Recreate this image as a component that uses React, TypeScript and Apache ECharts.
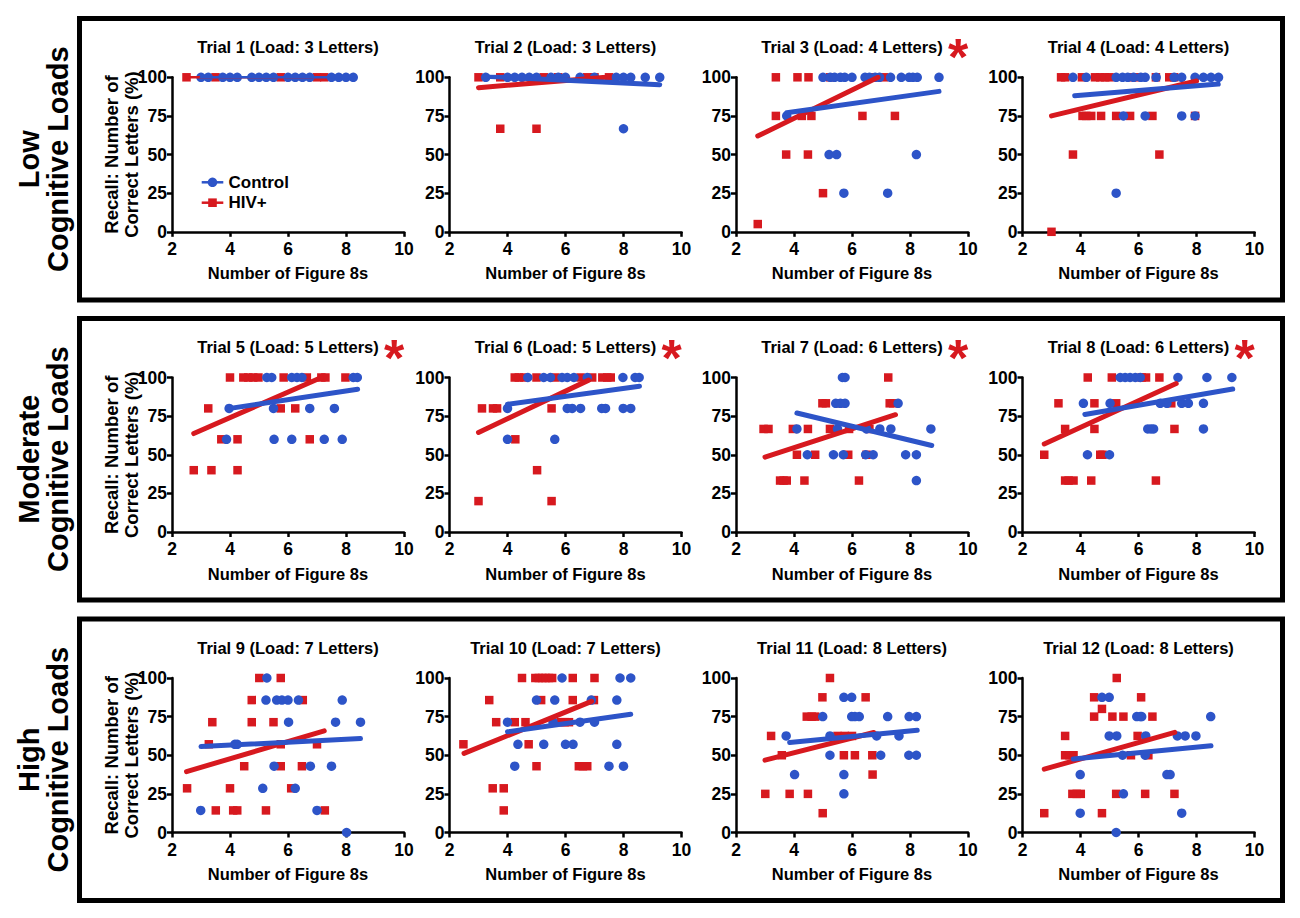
import React, { useEffect, useRef } from "react";
import * as echarts from "echarts";

const FONT = "'Liberation Sans', Arial, Helvetica, sans-serif";
const RED = "#D7191F";
const BLUE = "#2D54C8";

const trialTitles = [
  "Trial 1 (Load: 3 Letters)", "Trial 2 (Load: 3 Letters)", "Trial 3 (Load: 4 Letters)", "Trial 4 (Load: 4 Letters)",
  "Trial 5 (Load: 5 Letters)", "Trial 6 (Load: 5 Letters)", "Trial 7 (Load: 6 Letters)", "Trial 8 (Load: 6 Letters)",
  "Trial 9 (Load: 7 Letters)", "Trial 10 (Load: 7 Letters)", "Trial 11 (Load: 8 Letters)", "Trial 12 (Load: 8 Letters)",
];
const starredTrials = [3, 5, 6, 7, 8];
const rowLabels = ["Low\nCognitive Loads", "Moderate\nCognitive Loads", "High\nCognitive Loads"];
const xTicks = [2, 4, 6, 8, 10];
const yTicks = [0, 25, 50, 75, 100];
const xAxisName = "Number of Figure 8s";
const yAxisName = "Recall: Number of\nCorrect Letters (%)";
const legendNames = ["Control", "HIV+"];

// ---- data: [x, y] ----
const hiv1 = [[2.5, 100], [3.5, 100], [5.75, 100], [7.0, 100], [7.25, 100]];
const control1 = [[3.0, 100], [3.25, 100], [3.75, 100], [4.0, 100], [4.25, 100], [4.75, 100], [5.0, 100], [5.25, 100], [5.5, 100], [6.0, 100], [6.25, 100], [6.5, 100], [6.75, 100], [7.5, 100], [7.75, 100], [8.0, 100], [8.25, 100]];

const hiv2 = [[3.0, 100], [3.75, 100], [5.25, 100], [5.75, 100], [6.75, 100], [7.0, 100], [7.5, 100], [3.75, 66.7], [5.0, 66.7]];
const control2 = [[3.25, 100], [4.0, 100], [4.25, 100], [4.5, 100], [4.75, 100], [5.0, 100], [5.5, 100], [5.75, 100], [6.0, 100], [6.5, 100], [7.0, 100], [7.75, 100], [8.0, 100], [8.25, 100], [8.75, 100], [9.25, 100], [8.0, 66.7]];

const hiv3 = [[3.375, 100], [4.12, 100], [4.5, 100], [5.25, 100], [6.75, 100], [7.1, 100], [3.375, 75], [4.27, 75], [4.6, 75], [6.36, 75], [7.48, 75], [3.73, 50], [4.48, 50], [5.0, 25], [2.75, 5]];
const control3 = [[5.0, 100], [5.25, 100], [5.4, 100], [5.6, 100], [5.75, 100], [6.0, 100], [6.45, 100], [6.6, 100], [6.8, 100], [6.95, 100], [7.33, 100], [7.7, 100], [7.97, 100], [8.1, 100], [8.25, 100], [9.0, 100], [3.75, 75], [5.21, 50], [5.47, 50], [8.22, 50], [5.72, 25], [7.23, 25]];

const hiv4 = [[3.33, 100], [3.47, 100], [4.05, 100], [4.5, 100], [4.68, 100], [4.85, 100], [5.0, 100], [5.77, 100], [5.94, 100], [6.6, 100], [7.06, 100], [7.23, 100], [4.07, 75], [4.2, 75], [4.37, 75], [4.71, 75], [5.23, 75], [5.71, 75], [6.48, 75], [7.95, 75], [3.74, 50], [6.72, 50], [3.0, 0]];
const control4 = [[3.74, 100], [4.2, 100], [5.23, 100], [5.45, 100], [5.63, 100], [5.83, 100], [6.08, 100], [6.23, 100], [6.61, 100], [7.23, 100], [7.49, 100], [7.95, 100], [8.24, 100], [8.5, 100], [8.76, 100], [5.48, 75], [6.23, 75], [7.49, 75], [7.95, 75], [5.23, 25]];

const hiv5 = [[4.0, 100], [4.46, 100], [4.63, 100], [4.8, 100], [4.98, 100], [5.85, 100], [6.65, 100], [7.15, 100], [7.29, 100], [7.98, 100], [3.25, 80], [5.75, 80], [6.25, 80], [3.7, 60], [4.26, 60], [6.75, 60], [2.75, 40], [3.36, 40], [4.26, 40]];
const control5 = [[5.27, 100], [5.44, 100], [6.13, 100], [6.31, 100], [6.48, 100], [8.25, 100], [8.39, 100], [3.97, 80], [5.5, 80], [6.75, 80], [7.6, 80], [3.88, 60], [5.52, 60], [6.13, 60], [7.25, 60], [7.87, 60]];

const hiv6 = [[4.25, 100], [4.39, 100], [4.56, 100], [5.0, 100], [5.65, 100], [6.52, 100], [6.92, 100], [7.27, 100], [7.44, 100], [7.56, 100], [3.12, 80], [3.5, 80], [3.64, 80], [5.52, 80], [4.27, 60], [5.02, 40], [3.0, 20], [5.52, 20]];
const control6 = [[4.7, 100], [5.25, 100], [5.48, 100], [5.88, 100], [6.06, 100], [6.29, 100], [6.75, 100], [7.98, 100], [8.4, 100], [8.54, 100], [4.0, 80], [6.06, 80], [6.23, 80], [6.52, 80], [7.25, 80], [7.38, 80], [7.99, 80], [8.25, 80], [4.0, 60], [5.63, 60]];

const hiv7 = [[7.25, 100], [4.98, 83.3], [5.1, 83.3], [5.6, 83.3], [7.3, 83.3], [7.42, 83.3], [2.95, 66.7], [3.12, 66.7], [3.96, 66.7], [4.48, 66.7], [5.24, 66.7], [5.9, 66.7], [6.6, 66.7], [4.1, 50], [4.73, 50], [5.87, 50], [6.5, 50], [3.52, 33.3], [3.64, 33.3], [3.75, 33.3], [4.36, 33.3], [6.24, 33.3]];
const control7 = [[5.67, 100], [5.76, 100], [5.44, 83.3], [5.6, 83.3], [5.76, 83.3], [7.59, 83.3], [4.1, 66.7], [5.5, 66.7], [6.5, 66.7], [6.96, 66.7], [7.34, 66.7], [8.72, 66.7], [4.46, 50], [5.36, 50], [5.7, 50], [6.47, 50], [6.73, 50], [7.85, 50], [8.22, 50], [8.22, 33.3]];

const hiv8 = [[4.25, 100], [5.08, 100], [6.11, 100], [6.26, 100], [6.72, 100], [3.24, 83.3], [4.48, 83.3], [5.23, 83.3], [7.13, 83.3], [3.47, 66.7], [4.48, 66.7], [7.24, 66.7], [2.75, 50], [4.68, 50], [4.76, 50], [3.47, 33.3], [3.59, 33.3], [3.76, 33.3], [4.37, 33.3], [6.6, 33.3]];
const control8 = [[5.37, 100], [5.54, 100], [5.71, 100], [5.89, 100], [6.06, 100], [7.36, 100], [8.36, 100], [9.22, 100], [4.1, 83.3], [5.02, 83.3], [6.75, 83.3], [6.98, 83.3], [7.49, 83.3], [7.72, 83.3], [8.24, 83.3], [6.32, 66.7], [6.43, 66.7], [6.52, 66.7], [8.24, 66.7], [4.24, 50], [5.0, 50]];

const hiv9 = [[5.01, 100], [5.75, 100], [4.75, 85.7], [6.51, 85.7], [3.39, 71.4], [4.75, 71.4], [5.5, 71.4], [3.27, 57.1], [7.0, 57.1], [5.75, 57.1], [4.49, 42.9], [5.75, 42.9], [6.48, 42.9], [2.52, 28.6], [4.0, 28.6], [6.11, 28.6], [3.51, 14.3], [4.11, 14.3], [4.25, 14.3], [5.24, 14.3], [7.27, 14.3]];
const control9 = [[5.27, 100], [5.24, 85.7], [5.61, 85.7], [5.79, 85.7], [6.0, 85.7], [6.36, 85.7], [7.87, 85.7], [6.02, 71.4], [7.64, 71.4], [8.5, 71.4], [4.17, 57.1], [4.25, 57.1], [5.52, 42.9], [6.77, 42.9], [7.5, 42.9], [5.13, 28.6], [6.25, 28.6], [2.99, 14.3], [7.0, 14.3], [8.02, 0]];

const hiv10 = [[4.5, 100], [4.96, 100], [5.08, 100], [5.2, 100], [5.31, 100], [5.43, 100], [5.54, 100], [6.25, 100], [7.0, 100], [3.37, 85.7], [5.16, 85.7], [6.25, 85.7], [6.98, 85.7], [3.61, 71.4], [4.25, 71.4], [4.62, 71.4], [5.83, 71.4], [5.97, 71.4], [6.12, 71.4], [2.48, 57.1], [4.73, 57.1], [5.0, 42.9], [6.46, 42.9], [6.6, 42.9], [6.75, 42.9], [3.49, 28.6], [3.87, 28.6], [3.87, 14.3]];
const control10 = [[5.88, 100], [7.88, 100], [8.25, 100], [5.0, 85.7], [5.63, 85.7], [6.89, 85.7], [7.77, 85.7], [4.0, 71.4], [5.57, 71.4], [6.5, 71.4], [7.0, 71.4], [4.36, 57.1], [5.25, 57.1], [6.0, 57.1], [6.26, 57.1], [7.77, 57.1], [4.25, 42.9], [7.5, 42.9], [8.0, 42.9]];

const hiv11 = [[5.24, 100], [4.98, 87.5], [6.47, 87.5], [4.44, 75], [4.61, 75], [4.73, 75], [3.21, 62.5], [5.5, 62.5], [5.75, 62.5], [6.0, 62.5], [3.58, 50], [5.72, 50], [6.1, 50], [6.7, 50], [6.71, 37.5], [3.01, 25], [3.85, 25], [4.48, 25], [4.99, 12.5]];
const control11 = [[5.72, 87.5], [5.99, 87.5], [4.99, 75], [5.99, 75], [6.1, 75], [6.25, 75], [7.23, 75], [7.97, 75], [8.22, 75], [3.73, 62.5], [5.24, 62.5], [6.85, 62.5], [7.62, 62.5], [5.24, 50], [6.99, 50], [7.96, 50], [8.22, 50], [4.02, 37.5], [5.72, 37.5], [5.72, 25]];

const hiv12 = [[5.25, 100], [4.47, 87.5], [6.09, 87.5], [4.74, 80], [4.47, 75], [5.1, 75], [5.48, 75], [6.48, 75], [3.47, 62.5], [5.97, 62.5], [3.47, 50], [3.62, 50], [3.76, 50], [5.74, 50], [6.34, 50], [3.72, 25], [3.87, 25], [4.01, 25], [5.23, 25], [6.23, 25], [7.24, 25], [2.75, 12.5], [4.74, 12.5]];
const control12 = [[4.74, 87.5], [4.99, 87.5], [5.94, 75], [6.06, 75], [6.11, 75], [8.49, 75], [4.99, 62.5], [5.25, 62.5], [6.25, 62.5], [7.34, 62.5], [7.61, 62.5], [7.98, 62.5], [5.45, 50], [6.23, 50], [3.99, 37.5], [6.98, 37.5], [7.09, 37.5], [5.48, 25], [3.99, 12.5], [7.49, 12.5], [5.23, 0]];

// regression lines: [x1, y1, x2, y2]
const hivFit = [
  [2.5, 100, 7.25, 100], [3.0, 93.3, 7.5, 100.2], [2.75, 62, 6.9, 100], [3.0, 75, 8.0, 97.6],
  [2.75, 63.7, 7.15, 100], [3.0, 64.4, 6.8, 98.3], [3.0, 48.5, 7.5, 75.9], [2.75, 57, 7.3, 96.1],
  [2.5, 39.4, 7.25, 65.8], [2.5, 51.2, 6.9, 84.9], [3.0, 46.8, 6.75, 64.7], [2.75, 41, 7.25, 64.8],
];
const controlFit = [
  [3.0, 100, 8.25, 100], [3.25, 100.6, 9.25, 95.2], [3.75, 77, 9.0, 90.9], [3.8, 88, 8.75, 95.6],
  [4.0, 80, 8.4, 92.4], [4.0, 82.7, 8.55, 94.4], [4.1, 77, 8.75, 56], [4.15, 76.1, 9.25, 92.5],
  [3.0, 55.6, 8.5, 60.8], [4.0, 65.2, 8.25, 76.5], [3.85, 58.2, 8.25, 66.2], [3.75, 47.5, 8.5, 56.2],
];

const hivData = [hiv1, hiv2, hiv3, hiv4, hiv5, hiv6, hiv7, hiv8, hiv9, hiv10, hiv11, hiv12];
const controlData = [control1, control2, control3, control4, control5, control6, control7, control8, control9, control10, control11, control12];

// ---- layout ----
const colLeft = [172, 449.5, 736, 1022.5];
const rowTop = [77.3, 377.5, 678];
const plotW = 232;
const plotH = 154.5;
const boxTop = [18.5, 318.5, 619];
const boxH = 281.5;
const boxLeft = 79.5;
const boxW = 1203;

function txt(x: number, y: number, text: string, size: number, o: any = {}) {
  const align = o.align || "center";
  return {
    type: "text",
    x,
    y,
    rotation: o.rotation || 0,
    silent: true,
    z: 10,
    style: {
      text,
      fill: o.fill || "#000",
      fontSize: size,
      fontWeight: "bold",
      fontFamily: FONT,
      align,
      textAlign: align,
      verticalAlign: "middle",
      textVerticalAlign: "middle",
      lineHeight: o.lineHeight,
    },
  };
}

function buildOption() {
  const grids: any[] = [];
  const xAxes: any[] = [];
  const yAxes: any[] = [];
  const series: any[] = [];
  const graphics: any[] = [];

  for (let r = 0; r < 3; r++) {
    graphics.push({
      type: "rect",
      silent: true,
      shape: { x: boxLeft, y: boxTop[r], width: boxW, height: boxH },
      style: { fill: "transparent", stroke: "#000", lineWidth: 5 },
    });
    graphics.push(txt(43.5, boxTop[r] + boxH / 2, rowLabels[r], 29, { rotation: Math.PI / 2, lineHeight: 29 }));
    graphics.push(txt(121, rowTop[r] + plotH / 2, yAxisName, 18.5, { rotation: Math.PI / 2, lineHeight: 20 }));
  }

  const axisLineStyle = { color: "#000", width: 2.5 };
  const labelStyle = { color: "#000", fontSize: 17.5, fontWeight: "bold", fontFamily: FONT };

  for (let i = 0; i < 12; i++) {
    const r = Math.floor(i / 4);
    const c = i % 4;
    const left = colLeft[c];
    const top = rowTop[r];
    const cx = left + plotW / 2;
    grids.push({ left, top, width: plotW, height: plotH, containLabel: false });
    xAxes.push({
      type: "value",
      gridIndex: i,
      min: xTicks[0],
      max: xTicks[xTicks.length - 1],
      interval: xTicks[1] - xTicks[0],
      axisLine: { show: true, onZero: false, lineStyle: axisLineStyle },
      axisTick: { show: true, length: 5, lineStyle: axisLineStyle },
      axisLabel: { ...labelStyle, margin: 8 },
      splitLine: { show: false },
    });
    yAxes.push({
      type: "value",
      gridIndex: i,
      min: yTicks[0],
      max: yTicks[yTicks.length - 1],
      interval: yTicks[1] - yTicks[0],
      axisLine: { show: true, onZero: false, lineStyle: axisLineStyle },
      axisTick: { show: true, length: 5, lineStyle: axisLineStyle },
      axisLabel: { ...labelStyle, margin: 5 },
      splitLine: { show: false },
    });
    series.push({
      type: "scatter",
      xAxisIndex: i,
      yAxisIndex: i,
      data: hivData[i],
      symbol: "rect",
      symbolSize: 8.5,
      itemStyle: { color: RED, opacity: 1 },
      clip: false,
      silent: true,
    });
    series.push({
      type: "scatter",
      xAxisIndex: i,
      yAxisIndex: i,
      data: controlData[i],
      symbol: "circle",
      symbolSize: 9.5,
      itemStyle: { color: BLUE, opacity: 1 },
      clip: false,
      silent: true,
    });
    const lw = i === 0 ? 2.5 : 5;
    const hf = hivFit[i];
    const cf = controlFit[i];
    series.push({
      type: "line",
      xAxisIndex: i,
      yAxisIndex: i,
      data: [[hf[0], hf[1]], [hf[2], hf[3]]],
      symbol: "none",
      showSymbol: false,
      silent: true,
      lineStyle: { color: RED, width: lw, cap: "round", opacity: 1 },
    });
    series.push({
      type: "line",
      xAxisIndex: i,
      yAxisIndex: i,
      data: [[cf[0], cf[1]], [cf[2], cf[3]]],
      symbol: "none",
      showSymbol: false,
      silent: true,
      lineStyle: { color: BLUE, width: lw, cap: "round", opacity: 1 },
    });

    graphics.push(txt(cx, top - 30.5, trialTitles[i], 16.5));
    graphics.push(txt(cx, top + plotH + 41.6, xAxisName, 16.5));
    if (starredTrials.indexOf(i + 1) >= 0) {
      graphics.push(txt(cx + 106, top - 20, "*", 52, { fill: RED }));
    }
  }

  // legend in first panel
  const ly = [182.3, 202.7];
  graphics.push({ type: "line", silent: true, shape: { x1: 201.7, y1: ly[0], x2: 223.3, y2: ly[0] }, style: { stroke: BLUE, lineWidth: 2.5 } });
  graphics.push({ type: "circle", silent: true, shape: { cx: 212.5, cy: ly[0], r: 4.8 }, style: { fill: BLUE } });
  graphics.push({ type: "line", silent: true, shape: { x1: 201.7, y1: ly[1], x2: 223.3, y2: ly[1] }, style: { stroke: RED, lineWidth: 2.5 } });
  graphics.push({ type: "rect", silent: true, shape: { x: 208.2, y: ly[1] - 4.3, width: 8.6, height: 8.6 }, style: { fill: RED } });
  graphics.push(txt(228.5, ly[0], legendNames[0], 17, { align: "left" }));
  graphics.push(txt(228.5, ly[1], legendNames[1], 17, { align: "left" }));

  return {
    animation: false,
    backgroundColor: "#fff",
    grid: grids,
    xAxis: xAxes,
    yAxis: yAxes,
    series,
    graphic: { elements: graphics },
  };
}

export default function App() {
  const ref = useRef<HTMLDivElement>(null);
  useEffect(() => {
    if (!ref.current) return;
    const chart = echarts.init(ref.current, null, { renderer: "svg" });
    chart.setOption(buildOption() as any);
    return () => chart.dispose();
  }, []);
  return (
    <div
      ref={ref}
      style={{ position: "fixed", left: 0, top: 0, width: 1300, height: 918, background: "#fff" }}
    />
  );
}
